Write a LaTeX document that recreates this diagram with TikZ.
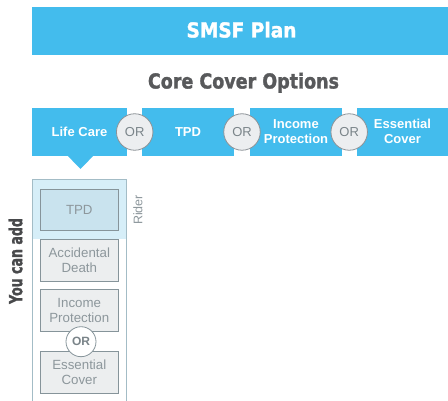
\documentclass[tikz,border=0pt]{standalone}
\usepackage{fontspec}
\setmainfont{Liberation Sans}
\newfontfamily\heavyfont{DejaVu Sans}[FakeBold=1.6]
\definecolor{skyb}{HTML}{43BCED}
\definecolor{orfill}{HTML}{ECEEF0}
\definecolor{orline}{HTML}{8C9297}
\definecolor{ortext}{HTML}{7A8489}
\definecolor{titlegray}{HTML}{58595B}
\definecolor{addgray}{HTML}{48494B}
\definecolor{colline}{HTML}{A3BCC6}
\definecolor{colbg}{HTML}{D6EEF8}
\definecolor{tpdfill}{HTML}{C9E3EE}
\definecolor{boxfill}{HTML}{ECEEEF}
\definecolor{boxline}{HTML}{86949A}
\definecolor{boxtext}{HTML}{8D979C}
\begin{document}
\begin{tikzpicture}[x=1pt,y=-1pt,
  optbox/.style={rectangle, fill=skyb, minimum height=48pt, inner sep=0pt,
    text=white, align=center, font=\bfseries\fontsize{13}{15}\selectfont},
  orcirc/.style={circle, fill=orfill, draw=orline, line width=0.8pt,
    minimum size=36.5pt, inner sep=0pt, text=ortext, font=\fontsize{13}{13}\selectfont},
  ridebox/.style={rectangle, minimum width=78.5pt, minimum height=41.7pt, inner sep=0pt,
    draw=boxline, line width=0.8pt, fill=boxfill, text=boxtext, align=center,
    font=\fontsize{13.3}{14.7}\selectfont},
  heading/.style={anchor=base, inner sep=0pt}]
\useasboundingbox (0,0) rectangle (448,401);

% top band
\node[rectangle, fill=skyb, minimum width=416pt, minimum height=48pt, inner sep=0pt] (band) at (240,31) {};
\node[heading, xscale=0.9, text=white, font=\heavyfont\bfseries\fontsize{20.6}{20.6}\selectfont] (smsf) at (241.5,37.5) {SMSF Plan};
\node[heading, xscale=0.85, text=titlegray, font=\heavyfont\bfseries\fontsize{20.6}{20.6}\selectfont] (core) at (243.5,88.5) {Core Cover Options};

% option boxes
\node[optbox, minimum width=95pt] (b1) at (79.5,131.7) {Life Care};
\node[optbox, minimum width=92pt] (b2) at (188,131.7) {TPD};
\node[optbox, minimum width=92pt] (b3) at (296,131.7) {Income\\Protection};
\node[optbox, minimum width=91pt] (b4) at (402.5,131.7) {Essential\\Cover};
\fill[skyb] (67.5,155.6) -- (93.5,155.6) -- (80.5,169) -- cycle;

\node[orcirc] (or1) at (134.7,132) {OR};
\node[orcirc] (or2) at (242,132) {OR};
\node[orcirc] (or3) at (349.2,132) {OR};

% rider column
\fill[white] (32.5,180) rectangle (126.5,403);
\fill[colbg] (32.5,180) rectangle (126.5,239);
\draw[colline, line width=1pt] (32.5,403) -- (32.5,180) -- (126.5,180) -- (126.5,403);

\node[ridebox, fill=tpdfill] (tpd) at (79.3,210) {TPD};
\node[ridebox] (acc) at (79.3,260.2) {Accidental\\Death};
\node[ridebox] (inc) at (79.3,310.2) {Income\\Protection};
\node[ridebox] (ess) at (79.3,372.2) {Essential\\Cover};
\node[circle, fill=white, draw=boxline, line width=0.8pt, minimum size=30pt, inner sep=0pt,
  text=ortext, font=\bfseries\fontsize{12}{12}\selectfont] (or4) at (81,341.7) {OR};

\node[rotate=90, inner sep=0pt, text=boxtext, font=\fontsize{12.5}{12.5}\selectfont] (rider) at (138,210) {Rider};
\node[rotate=90, xscale=0.7, inner sep=0pt, text=addgray, font=\heavyfont\bfseries\fontsize{18}{18}\selectfont] (add) at (15.5,261) {You can add};
\end{tikzpicture}
\end{document}
